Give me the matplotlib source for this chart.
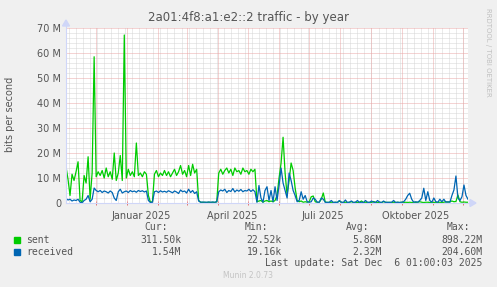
import numpy as np
import matplotlib
matplotlib.use("Agg")
import matplotlib.pyplot as plt
import matplotlib.dates as mdates
from matplotlib.patches import Polygon, Rectangle
from matplotlib.lines import Line2D
import datetime as dt

# ---------------- data (Mbit/s, one sample every 2 days from 2024-11-01) ----------------
sent = [
    14.5, 9.5, 3.0, 11.5, 9.0, 12.5, 16.5, 1.0, 0.5, 11.0,
    8.0, 18.5, 1.5, 12.0, 58.5, 10.5, 12.5, 11.0, 13.0, 10.0,
    14.0, 10.5, 12.5, 9.5, 20.0, 9.0, 12.0, 19.0, 9.0, 67.2,
    10.0, 13.5, 11.0, 12.5, 10.5, 24.0, 11.0, 12.0, 10.5, 12.5,
    11.5, 3.0, 0.3, 0.5, 11.5, 13.0, 10.5, 12.0, 11.0, 13.0,
    11.0, 12.5, 10.5, 12.0, 13.5, 11.0, 12.5, 15.0, 11.5, 13.0,
    10.5, 15.0, 11.0, 15.5, 12.0, 13.5, 1.0, 0.3, 0.2, 0.3,
    0.2, 0.3, 0.2, 0.3, 0.2, 0.5, 12.0, 13.5, 11.5, 13.0,
    14.0, 12.0, 13.5, 11.0, 14.0, 12.5, 13.0, 11.5, 14.0, 12.5,
    13.0, 11.5, 13.5, 12.5, 13.5, 0.5, 0.8, 1.0, 0.3, 0.8,
    1.0, 0.5, 0.8, 0.5, 1.0, 3.0, 10.0, 16.0, 26.3, 12.0,
    3.0, 9.0, 16.0, 13.0, 6.0, 1.0, 0.5, 0.8, 0.3, 0.5,
    0.3, 0.5, 2.5, 2.8, 0.5, 0.3, 0.3, 1.5, 4.0, 0.3,
    0.3, 0.2, 0.3, 0.2, 0.3, 0.2, 0.8, 0.3, 0.2, 0.3,
    0.2, 0.3, 0.5, 0.2, 0.3, 0.2, 0.3, 0.8, 0.2, 0.3,
    0.2, 0.3, 0.2, 0.6, 0.3, 0.2, 0.3, 0.2, 0.5, 0.3,
    0.2, 0.3, 0.2, 0.3, 0.2, 0.3, 0.2, 0.3, 0.2, 0.3,
    0.2, 0.3, 0.2, 0.3, 0.2, 0.3, 0.5, 0.3, 0.2, 0.3,
    0.3, 0.2, 0.3, 0.2, 0.3, 0.2, 0.3, 0.2, 0.3, 0.5,
    0.3, 0.5, 0.8, 0.5, 0.6, 3.2, 0.5, 0.3, 0.4, 0.3,
    0.3,
]
received = [
    1.8, 1.2, 1.5, 0.8, 1.2, 1.0, 1.5, 0.3, 0.1, 1.0,
    1.5, 3.0, 0.5, 1.5, 6.0, 5.0, 4.5, 5.0, 4.2, 4.8,
    4.5, 4.0, 4.8, 4.2, 2.0, 1.0, 4.5, 5.5, 4.0, 4.5,
    4.8, 4.2, 5.0, 4.5, 4.8, 4.3, 5.0, 4.6, 4.9, 4.4,
    4.8, 1.0, 0.2, 0.3, 4.5, 4.8, 4.2, 4.9, 4.4, 4.7,
    4.3, 4.9, 4.5, 4.1, 4.8, 4.4, 3.8, 5.2, 4.5, 4.8,
    4.0, 5.5, 4.2, 5.0, 3.8, 4.5, 0.8, 0.3, 0.4, 0.3,
    0.3, 0.4, 0.3, 0.4, 0.3, 0.5, 4.5, 5.2, 4.8, 5.5,
    4.2, 5.0, 4.6, 5.8, 4.4, 5.2, 4.7, 5.4, 4.5, 5.0,
    4.8, 5.5, 4.6, 5.3, 4.5, 0.3, 7.0, 2.0, 0.3, 5.0,
    6.5, 1.0, 5.0, 0.5, 6.5, 1.0, 7.0, 14.0, 8.0, 5.0,
    2.0, 12.0, 9.0, 5.0, 3.0, 0.5, 1.0, 4.5, 1.5, 3.0,
    0.5, 0.3, 0.5, 2.0, 1.5, 0.3, 0.3, 2.0, 1.5, 0.3,
    0.2, 0.3, 1.0, 0.2, 0.3, 0.2, 1.0, 0.3, 0.2, 1.2,
    0.2, 0.3, 0.8, 0.2, 0.3, 1.0, 0.2, 0.3, 0.2, 1.0,
    0.3, 0.2, 0.8, 0.3, 0.2, 1.0, 0.3, 0.2, 0.8, 0.2,
    0.3, 0.2, 0.3, 1.0, 0.2, 0.3, 0.2, 0.3, 0.5, 1.5,
    3.0, 3.9, 1.5, 0.3, 0.5, 0.3, 1.0, 2.0, 5.9, 1.0,
    4.5, 1.0, 0.3, 2.0, 0.5, 0.3, 1.5, 0.5, 1.5, 0.3,
    0.5, 0.3, 3.0, 5.2, 10.8, 2.0, 1.0, 2.5, 7.2, 3.0,
    1.5,
]
y_ticks = [0, 10, 20, 30, 40, 50, 60, 70]
y_tick_labels = ["0", "10 M", "20 M", "30 M", "40 M", "50 M", "60 M", "70 M"]
x_labels = ["Januar 2025", "April 2025", "Juli 2025", "Oktober 2025"]
x_label_dates = [dt.datetime(2025, 1, 15, 1), dt.datetime(2025, 4, 15, 1),
                 dt.datetime(2025, 7, 15, 1), dt.datetime(2025, 10, 15, 1)]
series_names = ["sent", "received"]
cur_vals = ["311.50k", "1.54M"]
min_vals = ["22.52k", "19.16k"]
avg_vals = ["5.86M", "2.32M"]
max_vals = ["898.22M", "204.60M"]
title = "2a01:4f8:a1:e2::2 traffic - by year"
last_update = "Last update: Sat Dec  6 01:00:03 2025"

# ---------------- figure ----------------
W, H = 497, 287
BG = "#F0F0F0"
TXT = "#555555"
GREEN = "#00CC00"
BLUE = "#0066B3"
AXC = "#CFD6F8"
MINOR = "#d6d6d6"
MAJOR = "#eaa8a8"

fig = plt.figure(figsize=(W / 100, H / 100), dpi=100, facecolor=BG)

def fx(px):
    return px / W

def fy(py):
    return 1 - py / H

L, R, T, B = 66, 468, 28, 203
ax = fig.add_axes([fx(L), fy(B), (R - L) / W, (B - T) / H])
ax.set_facecolor("white")

start = dt.datetime(2024, 11, 1, 1)
end = dt.datetime(2025, 12, 6, 1)
dates = [start + dt.timedelta(days=2 * i) for i in range(len(sent))]
xd = mdates.date2num(dates)
x0, x1 = mdates.date2num(start), mdates.date2num(end)
ax.set_xlim(x0, x1)
ax.set_ylim(0, 70)

# grid
for v in np.arange(2, 70, 2):
    if v % 10 == 0:
        continue
    ax.axhline(v, color=MINOR, lw=0.72, ls=(0, (1, 1)), zorder=1)
d = dt.datetime(2024, 11, 4)
while d < end:
    ax.axvline(mdates.date2num(d), color=MINOR, lw=0.72, ls=(0, (1, 1)), zorder=1)
    d += dt.timedelta(days=7)
for v in y_ticks[1:]:
    ax.axhline(v, color=MAJOR, lw=0.72, ls=(0, (1, 1)), zorder=2)
month_starts = []
for y, m in [(2024, 12), (2025, 1), (2025, 2), (2025, 3), (2025, 4), (2025, 5),
             (2025, 6), (2025, 7), (2025, 8), (2025, 9), (2025, 10), (2025, 11), (2025, 12)]:
    month_starts.append(mdates.date2num(dt.datetime(y, m, 1)))
for m in month_starts:
    ax.axvline(m, color=MAJOR, lw=0.72, ls=(0, (1, 1)), zorder=2)

# data
ax.plot(xd, sent, color=GREEN, lw=0.9, zorder=4)
ax.plot(xd, received, color=BLUE, lw=0.9, zorder=5)

# axes styling
for s in ax.spines.values():
    s.set_visible(False)
ax.set_xticks(month_starts)
ax.set_xticklabels([])
ax.tick_params(axis="x", length=3, direction="inout", color="#e07070", width=0.7)
ax.set_yticks(y_ticks)
ax.set_yticklabels(y_tick_labels)
ax.tick_params(axis="y", length=0, pad=3.6, labelsize=7, labelcolor=TXT)

for xl, dl in zip(x_labels, x_label_dates):
    ax.text(mdates.date2num(dl), -5.2, xl, ha="center", va="center",
            fontsize=7, color=TXT)

# axis lines and arrows (figure pixels)
fig.add_artist(Line2D([fx(L), fx(471)], [fy(B), fy(B)], color=AXC, lw=0.8))
fig.add_artist(Line2D([fx(L), fx(L)], [fy(B), fy(24)], color=AXC, lw=0.8))
fig.add_artist(Polygon([[fx(470), fy(199.5)], [fx(476), fy(B)], [fx(470), fy(206.5)]],
                       closed=True, color=AXC, transform=fig.transFigure))
fig.add_artist(Polygon([[fx(62.5), fy(26)], [fx(L), fy(20)], [fx(69.5), fy(26)]],
                       closed=True, color=AXC, transform=fig.transFigure))

# texts
fig.text(fx(248.5), fy(18), title, ha="center", va="center", fontsize=8.5, color=TXT)
fig.text(fx(10), fy(114), "bits per second", rotation=90, ha="center", va="center",
         fontsize=7, color=TXT)
fig.text(fx(488), fy(52), "RRDTOOL / TOBI OETIKER", rotation=270, ha="center",
         va="center", fontsize=5, color="#c0c0c0")

mono = "DejaVu Sans Mono"
hy = 227.5
for hdr, rx in [("Cur:", 168.3), ("Min:", 268), ("Avg:", 369), ("Max:", 470)]:
    fig.text(fx(rx), fy(hy), hdr, ha="right", va="center", fontsize=7,
             family=mono, color=TXT)
rows_y = [240, 251.7]
colors = [GREEN, BLUE]
for k in range(2):
    yy = rows_y[k]
    fig.add_artist(Rectangle((fx(14), fy(yy + 3)), 6 / W, 6 / H, color=colors[k],
                             transform=fig.transFigure))
    fig.text(fx(26.5), fy(yy), series_names[k], ha="left", va="center", fontsize=7,
             family=mono, color=TXT)
    for val, rx in [(cur_vals[k], 181), (min_vals[k], 281.7), (avg_vals[k], 381.7),
                    (max_vals[k], 482.7)]:
        fig.text(fx(rx), fy(yy), val, ha="right", va="center", fontsize=7,
                 family=mono, color=TXT)
fig.text(fx(482.7), fy(263), last_update, ha="right", va="center", fontsize=7,
         family=mono, color=TXT)
fig.text(fx(248), fy(276), "Munin 2.0.73", ha="center", va="center", fontsize=5.5,
         color="#c4c4c4")

fig.savefig("out.png", dpi=100, facecolor=BG)
